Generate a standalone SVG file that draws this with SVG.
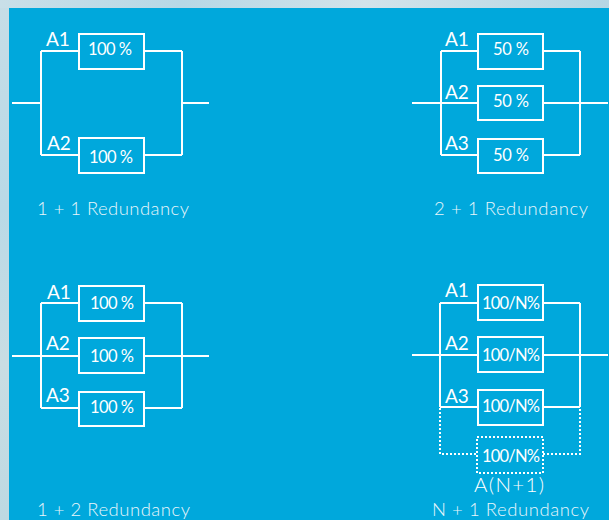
<svg xmlns="http://www.w3.org/2000/svg" width="609" height="520" viewBox="0 0 609 520">
<defs>
<linearGradient id="strip" x1="0" y1="0" x2="1" y2="0">
<stop offset="0" stop-color="#c9dfe8"/>
<stop offset="0.3" stop-color="#b6d8e6"/>
<stop offset="0.6" stop-color="#d2e3ea"/>
<stop offset="1" stop-color="#b4d6e4"/>
</linearGradient>
<linearGradient id="stripv" x1="0" y1="0" x2="0" y2="1">
<stop offset="0" stop-color="#c6dde6"/>
<stop offset="0.4" stop-color="#b9d9e6"/>
<stop offset="0.7" stop-color="#c9dde3"/>
<stop offset="1" stop-color="#bdd9e2"/>
</linearGradient>
</defs>
<style>
.ln{stroke:#ffffff;stroke-width:2;fill:none}
.dot{stroke:#ffffff;stroke-width:2;fill:none;stroke-dasharray:2 2}
.box{stroke:#ffffff;stroke-width:2;fill:none}
.lbl{font-family:Lato,"Liberation Sans",sans-serif;font-size:19px;font-weight:400;fill:#ffffff}
.val{font-family:Lato,"Liberation Sans",sans-serif;font-size:16.5px;font-weight:400;fill:#ffffff}
.cap{font-family:Lato,"Liberation Sans",sans-serif;font-size:18.5px;font-weight:300;fill:#e8f6fb}
</style>
<rect x="0" y="0" width="609" height="520" fill="url(#stripv)"/>
<rect x="0" y="0" width="609" height="8" fill="url(#strip)"/>
<rect x="9" y="8" width="600" height="512" fill="#00a8dc"/>

<g id="connectors">
<!-- 1+1 -->
<path class="ln" d="M12 103H41M41 51V155M41 51H79M144 51H182M182 51V155M182 103H209M41 155H79M144 155H182"/>
<!-- 2+1 -->
<path class="ln" d="M412 103H478M543 103H608M441 51V155M580 51V155M441 51H478M543 51H580M441 155H478M543 155H580"/>
<!-- 1+2 -->
<path class="ln" d="M12 356H79M144 356H209M41 303V408M182 303V408M41 303H79M144 303H182M41 408H79M144 408H182"/>
<!-- N+1 -->
<path class="ln" d="M412 355H478M543 355H608M440 303V407M580 303V407M440 303H478M543 303H580M440 407H478M543 407H580"/>
<path class="dot" d="M440 408V454H477M543 454H580V408"/>
</g>

<g id="p11-a1"><rect class="box" x="79" y="34" width="65" height="35"/><text class="lbl" x="46" y="46">A1</text><text class="val" x="88" y="55" textLength="44" lengthAdjust="spacing">100 %</text></g>
<g id="p11-a2"><rect class="box" x="79" y="138" width="65" height="35"/><text class="lbl" x="47" y="150">A2</text><text class="val" x="89" y="163" textLength="44" lengthAdjust="spacing">100 %</text></g>
<g id="p11-cap"><text class="cap" x="37" y="215" textLength="152" lengthAdjust="spacing">1 + 1 Redundancy</text></g>

<g id="p21-a1"><rect class="box" x="478" y="34" width="65" height="35"/><text class="lbl" x="445" y="46">A1</text><text class="val" x="493" y="55" textLength="36" lengthAdjust="spacing">50 %</text></g>
<g id="p21-a2"><rect class="box" x="478" y="86" width="65" height="34"/><text class="lbl" x="445" y="99">A2</text><text class="val" x="493" y="107" textLength="36" lengthAdjust="spacing">50 %</text></g>
<g id="p21-a3"><rect class="box" x="478" y="139" width="65" height="34"/><text class="lbl" x="445" y="150">A3</text><text class="val" x="493" y="161" textLength="36" lengthAdjust="spacing">50 %</text></g>
<g id="p21-cap"><text class="cap" x="434" y="215" textLength="154" lengthAdjust="spacing">2 + 1 Redundancy</text></g>

<g id="p12-a1"><rect class="box" x="79" y="286" width="65" height="35"/><text class="lbl" x="47" y="299">A1</text><text class="val" x="90" y="309" textLength="44" lengthAdjust="spacing">100 %</text></g>
<g id="p12-a2"><rect class="box" x="79" y="338" width="65" height="35"/><text class="lbl" x="46" y="350">A2</text><text class="val" x="90" y="362" textLength="44" lengthAdjust="spacing">100 %</text></g>
<g id="p12-a3"><rect class="box" x="79" y="392" width="65" height="34"/><text class="lbl" x="46" y="402">A3</text><text class="val" x="90" y="413" textLength="44" lengthAdjust="spacing">100 %</text></g>
<g id="p12-cap"><text class="cap" x="37" y="516" textLength="153" lengthAdjust="spacing">1 + 2 Redundancy</text></g>

<g id="pn1-a1"><rect class="box" x="478" y="285" width="65" height="35"/><text class="lbl" x="445" y="297">A1</text><text class="val" x="482" y="309" textLength="58" lengthAdjust="spacing">100/N%</text></g>
<g id="pn1-a2"><rect class="box" x="478" y="337" width="65" height="35"/><text class="lbl" x="445" y="350">A2</text><text class="val" x="482" y="361" textLength="58" lengthAdjust="spacing">100/N%</text></g>
<g id="pn1-a3"><rect class="box" x="478" y="390" width="65" height="35"/><text class="lbl" x="445" y="403">A3</text><text class="val" x="482" y="412" textLength="58" lengthAdjust="spacing">100/N%</text></g>
<g id="pn1-an1"><rect class="dot" x="477" y="437" width="66" height="36"/><text class="val" x="482" y="462" textLength="58" lengthAdjust="spacing">100/N%</text><text class="lbl" x="474" y="492" style="font-size:20.5px;font-weight:300" textLength="70" lengthAdjust="spacing">A(N+1)</text></g>
<g id="pn1-cap"><text class="cap" x="432" y="516" textLength="157" lengthAdjust="spacing">N + 1 Redundancy</text></g>
</svg>
